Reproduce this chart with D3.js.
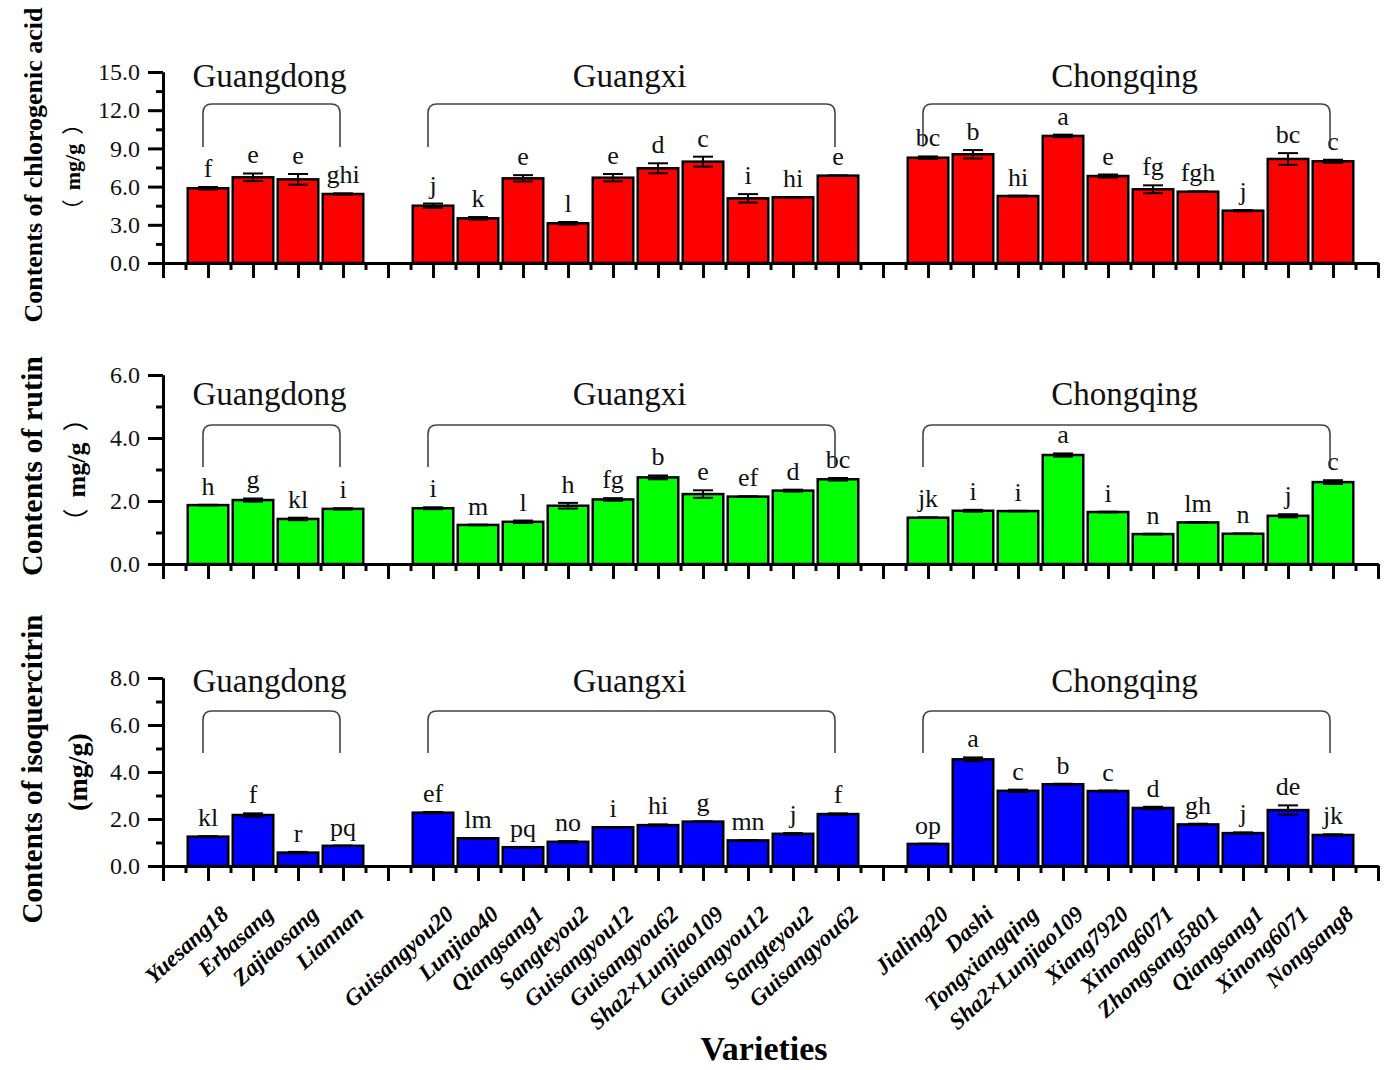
<!DOCTYPE html>
<html>
<head>
<meta charset="utf-8">
<script src="https://cdn.jsdelivr.net/npm/d3@7"></script>
<style>
  html, body { margin: 0; padding: 0; background: #fff; }
  svg { display: block; font-family: "Liberation Serif", "Times New Roman", serif; }
</style>
</head>
<body>
<svg id="chart" width="1388" height="1070"></svg>
<script>
// Mulberry varieties grouped by growing region
const regions = ["Guangdong", "Guangxi", "Chongqing"];
const regionSizes = [4, 10, 10];

const varieties = [
  "Yuesang18", "Erbasang", "Zajiaosang", "Liannan",
  "Guisangyou20", "Lunjiao40", "Qiangsang1", "Sangteyou2", "Guisangyou12",
  "Guisangyou62", "Sha2×Lunjiao109", "Guisangyou12", "Sangteyou2", "Guisangyou62",
  "Jialing20", "Dashi", "Tongxiangqing", "Sha2×Lunjiao109", "Xiang7920",
  "Xinong6071", "Zhongsang5801", "Qiangsang1", "Xinong6071", "Nongsang8"
];

// Chlorogenic acid (mg/g)
const chlorogenic = [5.87, 6.73, 6.57, 5.42,
  4.50, 3.51, 6.65, 3.12, 6.70, 7.44, 7.96, 5.08, 5.16, 6.86,
  8.27, 8.54, 5.26, 9.98, 6.83, 5.79, 5.60, 4.11, 8.17, 7.99];
const chlorogenicErr = [0.10, 0.30, 0.42, 0.05,
  0.17, 0.10, 0.25, 0.10, 0.29, 0.39, 0.39, 0.33, 0.02, 0.02,
  0.10, 0.33, 0.03, 0.10, 0.12, 0.31, 0.02, 0.05, 0.46, 0.12];
const chlorogenicSig = ["f", "e", "e", "ghi",
  "j", "k", "e", "l", "e", "d", "c", "i", "hi", "e",
  "bc", "b", "hi", "a", "e", "fg", "fgh", "j", "bc", "c"];

// Rutin (mg/g)
const rutin = [1.87, 2.03, 1.43, 1.75,
  1.77, 1.24, 1.34, 1.85, 2.05, 2.75, 2.22, 2.14, 2.33, 2.69,
  1.47, 1.69, 1.68, 3.46, 1.65, 0.95, 1.32, 0.96, 1.53, 2.60];
const rutinErr = [0.01, 0.05, 0.04, 0.02,
  0.03, 0.01, 0.04, 0.09, 0.04, 0.06, 0.12, 0.01, 0.03, 0.04,
  0.01, 0.03, 0.01, 0.05, 0.01, 0.01, 0.01, 0.01, 0.05, 0.06];
const rutinSig = ["h", "g", "kl", "i",
  "i", "m", "l", "h", "fg", "b", "e", "ef", "d", "bc",
  "jk", "i", "i", "a", "i", "n", "lm", "n", "j", "c"];

// Isoquercitrin (mg/g)
const isoquercitrin = [1.25, 2.17, 0.57, 0.86,
  2.27, 1.18, 0.80, 1.03, 1.65, 1.74, 1.89, 1.09, 1.37, 2.21,
  0.94, 4.54, 3.20, 3.48, 3.19, 2.47, 1.77, 1.40, 2.38, 1.32];
const isoquercitrinErr = [0.02, 0.07, 0.03, 0.01,
  0.03, 0.01, 0.01, 0.03, 0.01, 0.03, 0.01, 0.01, 0.03, 0.03,
  0.01, 0.08, 0.05, 0.02, 0.02, 0.05, 0.03, 0.03, 0.20, 0.03];
const isoquercitrinSig = ["kl", "f", "r", "pq",
  "ef", "lm", "pq", "no", "i", "hi", "g", "mn", "j", "f",
  "op", "a", "c", "b", "c", "d", "gh", "j", "de", "jk"];

// Slot index of every bar on the shared category axis (one empty slot between regions)
const slots = [];
{
  let s = 1;
  regionSizes.forEach(n => {
    for (let i = 0; i < n; i++) slots.push(s++);
    s++;
  });
}
const nSlots = 27;

const svg = d3.select("#chart");
const FONT = '"Liberation Serif", "Times New Roman", serif';
const CJK = '"Noto Sans CJK SC", sans-serif';

const x = d3.scaleLinear().domain([0, nSlots]).range([163, 1378]);
const step = x(1) - x(0);
const barW = step * 0.9;

const panels = [
  { values: chlorogenic, errors: chlorogenicErr, sig: chlorogenicSig, fill: "#ff0000",
    max: 15, major: 3, zeroY: 263, topY: 72,
    title: "Contents of chlorogenic acid", titleSize: 26, titleY: 165,
    unit: ["（", "mg/g", "）"], unitSize: 22, unitGap: 9, unitX: 80, unitY: 167,
    bracketTop: 104, bracketEnd: 147, regionY: 87 },
  { values: rutin, errors: rutinErr, sig: rutinSig, fill: "#00ff00",
    max: 6, major: 2, zeroY: 564, topY: 375,
    title: "Contents of rutin", titleSize: 30, titleY: 466,
    unit: ["（", "mg/g", "）"], unitSize: 26, unitGap: 11, unitX: 85, unitY: 470,
    bracketTop: 425, bracketEnd: 467, regionY: 405 },
  { values: isoquercitrin, errors: isoquercitrinErr, sig: isoquercitrinSig, fill: "#0000ff",
    max: 8, major: 2, zeroY: 866, topY: 678,
    title: "Contents of isoquercitrin", titleSize: 29, titleY: 769,
    unit: ["(", "mg/g", ")"], unitSize: 28, unitGap: 0, unitX: 87, unitY: 772,
    bracketTop: 711, bracketEnd: 753, regionY: 692 }
];

panels.forEach((p, pi) => {
  const y = d3.scaleLinear().domain([0, p.max]).range([p.zeroY, p.topY]);
  const g = svg.append("g");

  // bars
  g.selectAll("rect.bar").data(p.values).join("rect")
    .attr("class", "bar")
    .attr("x", (d, i) => x(slots[i]) - barW / 2)
    .attr("y", d => y(d))
    .attr("width", barW)
    .attr("height", d => p.zeroY - y(d))
    .attr("fill", p.fill)
    .attr("stroke", "#000")
    .attr("stroke-width", 2.5);

  // error bars
  const eb = g.selectAll("g.err").data(p.values).join("g").attr("class", "err")
    .attr("stroke", "#000").attr("stroke-width", 2);
  eb.append("line")
    .attr("x1", (d, i) => x(slots[i])).attr("x2", (d, i) => x(slots[i]))
    .attr("y1", (d, i) => y(d - p.errors[i])).attr("y2", (d, i) => y(d + p.errors[i]));
  [-1, 1].forEach(sgn => {
    eb.append("line")
      .attr("x1", (d, i) => x(slots[i]) - 10).attr("x2", (d, i) => x(slots[i]) + 10)
      .attr("y1", (d, i) => y(d + sgn * p.errors[i])).attr("y2", (d, i) => y(d + sgn * p.errors[i]));
  });

  // significance letters
  g.selectAll("text.sig").data(p.values).join("text")
    .attr("class", "sig")
    .attr("x", (d, i) => x(slots[i]))
    .attr("y", (d, i) => y(d + p.errors[i]) - 10)
    .attr("text-anchor", "middle")
    .attr("font-size", 26)
    .attr("fill", "#111")
    .text((d, i) => p.sig[i]);

  // y axis
  const majorTicks = d3.range(0, p.max + 1e-9, p.major);
  const minorTicks = d3.range(p.major / 2, p.max, p.major);
  g.append("g").attr("transform", `translate(${x(0)},0)`)
    .call(d3.axisLeft(y).tickValues(majorTicks).tickFormat(d3.format(".1f"))
      .tickSize(15).tickSizeOuter(0).tickPadding(8));
  g.append("g").attr("transform", `translate(${x(0)},0)`)
    .call(d3.axisLeft(y).tickValues(minorTicks).tickFormat("").tickSize(7).tickSizeOuter(0));

  // x axis with major ticks at slots and minor ticks between them
  g.append("g").attr("transform", `translate(0,${p.zeroY})`)
    .call(d3.axisBottom(x).tickValues(d3.range(0, nSlots + 1)).tickFormat("")
      .tickSize(15).tickSizeOuter(0));
  g.append("g").attr("transform", `translate(0,${p.zeroY})`)
    .call(d3.axisBottom(x).tickValues(d3.range(0.5, nSlots, 1)).tickFormat("")
      .tickSize(7).tickSizeOuter(0));

  g.selectAll(".domain, .tick line").attr("stroke", "#000").attr("stroke-width", 3);
  g.selectAll(".tick text").attr("font-family", FONT).attr("font-size", 24).attr("fill", "#111");

  // axis titles
  g.append("text")
    .attr("transform", `translate(42,${p.titleY}) rotate(-90)`)
    .attr("text-anchor", "middle")
    .attr("font-weight", "bold")
    .attr("font-size", p.titleSize)
    .text(p.title);
  const unit = g.append("text")
    .attr("transform", `translate(${p.unitX},${p.unitY}) rotate(-90)`)
    .attr("text-anchor", "middle")
    .attr("font-weight", "bold")
    .attr("font-size", p.unitSize);
  const wide = p.unit[0] === "（";
  unit.append("tspan")
    .attr("font-family", wide ? CJK : FONT)
    .attr("font-weight", wide ? "normal" : "bold")
    .text(p.unit[0]);
  unit.append("tspan").attr("dx", p.unitGap).text(p.unit[1]);
  unit.append("tspan")
    .attr("dx", p.unitGap)
    .attr("font-family", wide ? CJK : FONT)
    .attr("font-weight", wide ? "normal" : "bold")
    .text(p.unit[2]);

  // region brackets and names
  let start = 0;
  regionSizes.forEach((n, ri) => {
    const x1 = x(slots[start]) - 5;
    const x2 = x(slots[start + n - 1]) - 3;
    const r = 9;
    const t = p.bracketTop, b = p.bracketEnd;
    g.append("path")
      .attr("d", `M${x1},${b} V${t + r} Q${x1},${t} ${x1 + r},${t} H${x2 - r} Q${x2},${t} ${x2},${t + r} V${b}`)
      .attr("fill", "none")
      .attr("stroke", "#444")
      .attr("stroke-width", 1.6);
    g.append("text")
      .attr("x", (x1 + x2) / 2 - 2)
      .attr("y", p.regionY)
      .attr("text-anchor", "middle")
      .attr("font-size", 33)
      .attr("fill", "#111")
      .text(regions[ri]);
    start += n;
  });

  // variety names under the bottom panel only
  if (pi === panels.length - 1) {
    g.selectAll("text.variety").data(varieties).join("text")
      .attr("class", "variety")
      .attr("transform", (d, i) => `translate(${x(slots[i]) + 22},${p.zeroY + 50}) rotate(-42)`)
      .attr("text-anchor", "end")
      .attr("font-weight", "bold")
      .attr("font-style", "italic")
      .attr("font-size", 23)
      .text(d => d);
  }
});

svg.append("text")
  .attr("x", 764)
  .attr("y", 1060)
  .attr("text-anchor", "middle")
  .attr("font-weight", "bold")
  .attr("font-size", 34)
  .text("Varieties");
</script>
</body>
</html>
